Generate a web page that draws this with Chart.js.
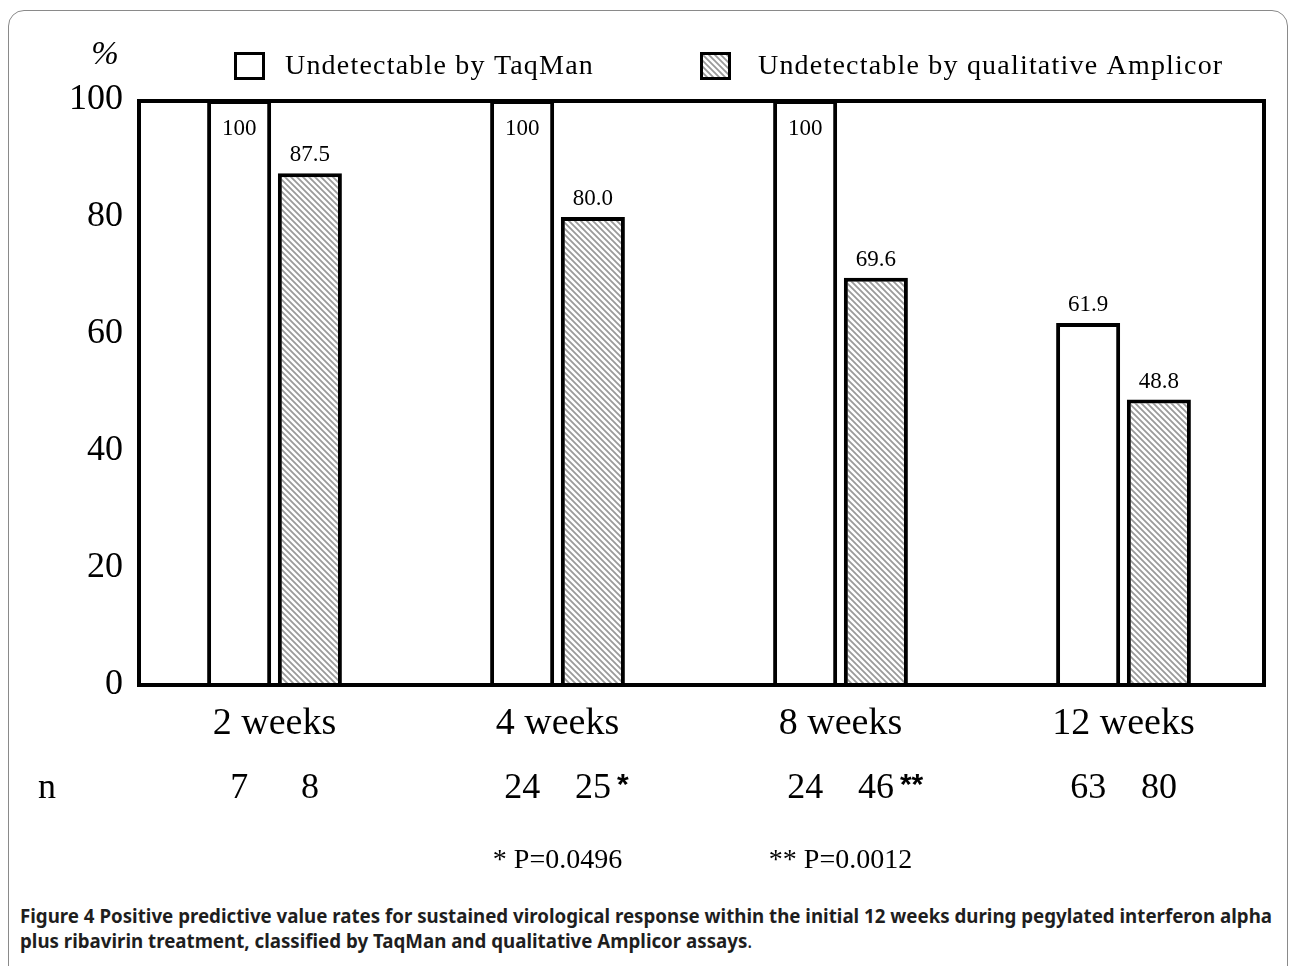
<!DOCTYPE html>
<html>
<head>
<meta charset="utf-8">
<script src="https://cdn.jsdelivr.net/npm/chart.js@4.4.1/dist/chart.umd.min.js"></script>
<style>
  html, body { margin: 0; padding: 0; background: #fff; overflow: hidden; }
  #frame { position: absolute; left: 8px; top: 10px; width: 1280px; height: 1000px;
           border: 1px solid #8a8a8a; border-radius: 16px; box-sizing: border-box; }
  #chart { position: absolute; left: 0; top: 0; }
  #caption { position: absolute; left: 20px; top: 904px; font-family: "Noto Sans", sans-serif;
             font-weight: bold; font-size: 19px; line-height: 25px; color: #1e1e1e; }
  #caption div { white-space: nowrap; transform-origin: 0 0; }
  #caption .dot { font-weight: normal; }
</style>
</head>
<body>
<div id="frame"></div>
<canvas id="chart" width="1289" height="880"></canvas>
<div id="caption">
  <div id="cap1">Figure 4 Positive predictive value rates for sustained virological response within the initial 12 weeks during pegylated interferon alpha</div>
  <div id="cap2">plus ribavirin treatment, classified by TaqMan and qualitative Amplicor assays<span class="dot">.</span></div>
</div>
<script>
const categories = ["2 weeks", "4 weeks", "8 weeks", "12 weeks"];
const taqman = [100, 100, 100, 61.9];
const amplicor = [87.5, 80.0, 69.6, 48.8];
const nTaqman = [7, 24, 24, 63];
const nAmplicor = [8, 25, 46, 80];
const nMarks = ["", "*", "**", ""];
const pNotes = ["", "* P=0.0496", "** P=0.0012", ""];
const yTicks = [0, 20, 40, 60, 80, 100];

const serif = '"Liberation Serif", "Times New Roman", serif';

function hatch() {
  const c = document.createElement("canvas");
  c.width = 6; c.height = 6;
  const g = c.getContext("2d");
  g.fillStyle = "#fff";
  g.fillRect(0, 0, 6, 6);
  g.strokeStyle = "#9a9a9a";
  g.lineWidth = 1.8;
  g.beginPath();
  g.moveTo(0, 0); g.lineTo(6, 6);
  g.moveTo(-1, 5); g.lineTo(1, 7);
  g.moveTo(5, -1); g.lineTo(7, 1);
  g.stroke();
  return document.getElementById("chart").getContext("2d").createPattern(c, "repeat");
}
const hatchFill = hatch();

// plot box is drawn a little inside the category area, as in the original figure
const boxLeft = 139, boxRight = 1264;

const extras = {
  id: "extras",
  afterDatasetsDraw(chart) {
    const ctx = chart.ctx;
    const a = chart.chartArea;
    ctx.save();
    ctx.strokeStyle = "#000";
    ctx.lineWidth = 4;
    ctx.strokeRect(boxLeft, a.top + 1, boxRight - boxLeft, a.bottom - a.top - 1);

    // value labels
    ctx.fillStyle = "#000";
    ctx.textAlign = "center";
    ctx.textBaseline = "middle";
    ctx.font = "23px " + serif;
    chart.data.datasets.forEach((ds, i) => {
      chart.getDatasetMeta(i).data.forEach((bar, j) => {
        const v = ds.data[j];
        const txt = v === 100 ? "100" : v.toFixed(1);
        const y = v >= 100 ? bar.y + 29 : bar.y - 18;
        ctx.fillText(txt, bar.x, y);
      });
    });

    // legend
    ctx.textAlign = "left";
    ctx.font = "28px " + serif;
    ctx.letterSpacing = "1.2px";
    const boxX = [234, 700];
    const textX = [285, 758];
    chart.data.datasets.forEach((ds, i) => {
      const x = boxX[i];
      ctx.fillStyle = ds.backgroundColor;
      ctx.fillRect(x, 52, 31, 28);
      ctx.strokeStyle = "#000";
      ctx.lineWidth = 3;
      ctx.strokeRect(x + 1.5, 53.5, 28, 25);
      ctx.fillStyle = "#000";
      ctx.fillText(ds.label, textX[i], 67);
    });
    ctx.letterSpacing = "0px";

    // percent sign
    ctx.textAlign = "center";
    ctx.font = "italic 33px " + serif;
    ctx.fillText("%", 105, 55);

    // n row and P values
    const m0 = chart.getDatasetMeta(0).data;
    const m1 = chart.getDatasetMeta(1).data;
    const nY = 789;
    ctx.font = "36px " + serif;
    ctx.fillText("n", 47, nY);
    categories.forEach((c, j) => {
      ctx.font = "36px " + serif;
      ctx.textAlign = "center";
      ctx.fillText(String(nTaqman[j]), m0[j].x, nY);
      ctx.fillText(String(nAmplicor[j]), m1[j].x, nY);
      if (nMarks[j]) {
        const w = ctx.measureText(String(nAmplicor[j])).width;
        ctx.font = "bold 30px " + '"Liberation Sans", Arial, sans-serif';
        ctx.textAlign = "left";
        ctx.fillText(nMarks[j], m1[j].x + w / 2 + 6, nY - 3);
      }
      if (pNotes[j]) {
        ctx.font = "28px " + serif;
        ctx.textAlign = "center";
        const cx = (m0[j].x + m1[j].x) / 2;
        ctx.fillText(pNotes[j], cx, 861);
      }
    });
    ctx.restore();
  }
};

new Chart(document.getElementById("chart"), {
  type: "bar",
  data: {
    labels: categories,
    datasets: [{
      label: "Undetectable by TaqMan",
      data: taqman,
      backgroundColor: "#ffffff",
      borderColor: "#000",
      borderWidth: 4
    }, {
      label: "Undetectable by qualitative Amplicor",
      data: amplicor,
      backgroundColor: hatchFill,
      borderColor: "#000",
      borderWidth: 4
    }]
  },
  options: {
    responsive: false,
    animation: false,
    devicePixelRatio: 1,
    layout: { padding: { left: 0, top: 100, right: 24, bottom: 135 } },
    categoryPercentage: 0.5,
    barPercentage: 0.905,
    plugins: { legend: { display: false }, tooltip: { enabled: false } },
    scales: {
      x: {
        grid: { display: false },
        border: { display: false },
        ticks: { color: "#000", font: { family: serif, size: 38 }, padding: 8 },
        afterFit(s) { s.height = 60; }
      },
      y: {
        min: 0, max: 100,
        afterBuildTicks(s) { s.ticks = yTicks.map(v => ({ value: v })); },
        grid: { display: false },
        border: { display: false },
        ticks: { color: "#000", font: { family: serif, size: 36 }, padding: 2 },
        afterFit(s) { s.width = 133; }
      }
    }
  },
  plugins: [extras]
});

// fit caption lines to the reference width
const c1 = document.getElementById("cap1");
const c2 = document.getElementById("cap2");
const k = 1252 / c1.getBoundingClientRect().width;
c1.style.transform = "scaleX(" + k + ")";
c2.style.transform = "scaleX(" + k + ")";
</script>
</body>
</html>
